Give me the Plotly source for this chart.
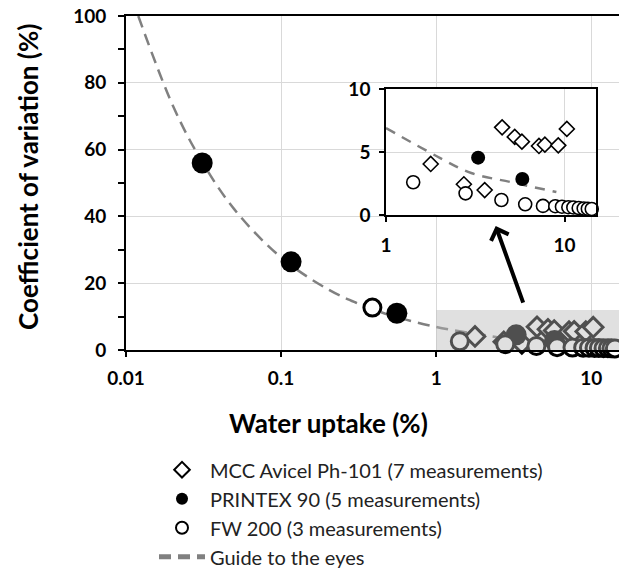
import plotly.graph_objects as go

# ---------------- data ----------------
mcc_x = [1.78, 2.73, 3.57, 4.47, 5.26, 5.77, 7.19, 7.76, 9.22, 10.3]
mcc_y = [4.05, 2.44, 1.98, 6.96, 6.2, 5.82, 5.48, 5.58, 5.53, 6.83]

printex_x = [0.031, 0.116, 0.558, 3.28, 5.8]
printex_y = [56.0, 26.4, 11.0, 4.55, 2.86]

fw_x = [0.388, 1.42, 2.79, 4.43, 6.02, 7.57, 8.87, 9.67, 10.5, 11.2, 12.0, 12.8, 13.5, 14.2]
fw_y = [12.7, 2.6, 1.72, 1.19, 0.85, 0.72, 0.7, 0.66, 0.62, 0.6, 0.55, 0.52, 0.5, 0.48]

guide_x = [0.012, 0.02, 0.03, 0.05, 0.1, 0.2, 0.3, 0.5, 1, 2, 3, 5, 9]
guide_y = [100, 73.3, 57.4, 42.1, 27.7, 18.2, 14.3, 10.5, 6.9, 4.54, 3.33, 2.61, 1.82]

names = ["MCC Avicel Ph-101 (7 measurements)",
         "PRINTEX 90 (5 measurements)",
         "FW 200 (3 measurements)",
         "Guide to the eyes"]

main_xticks = [0.01, 0.1, 1, 10]
main_xticktext = ["0.01", "0.1", "1", "10"]
main_yticks = [0, 20, 40, 60, 80, 100]
inset_xticks = [1, 10]
inset_xticktext = ["1", "10"]
inset_yticks = [0, 5, 10]

FONT = "Lato, 'Open Sans', sans-serif"


def inset_pts(xs, ys):
    pts = [(x, y) for x, y in zip(xs, ys) if x >= 1]
    return [p[0] for p in pts], [p[1] for p in pts]


fig = go.Figure()

# ---- main chart ----
fig.add_trace(go.Scatter(x=guide_x, y=guide_y, mode="lines", name=names[3],
                         line=dict(color="#808080", width=2.5, dash="12px,7px", shape="spline"),
                         legendrank=4, legendgroup="g4"))
fig.add_trace(go.Scatter(x=mcc_x, y=mcc_y, mode="markers", name=names[0],
                         marker=dict(symbol="diamond", size=15, color="white",
                                     line=dict(color="black", width=3)),
                         cliponaxis=False, legendrank=1, legendgroup="g1"))
fig.add_trace(go.Scatter(x=printex_x, y=printex_y, mode="markers", name=names[1],
                         marker=dict(symbol="circle", size=21, color="black",
                                     line=dict(color="black", width=0)),
                         cliponaxis=False, legendrank=2, legendgroup="g2"))
fig.add_trace(go.Scatter(x=fw_x, y=fw_y, mode="markers", name=names[2],
                         marker=dict(symbol="circle", size=17, color="white",
                                     line=dict(color="black", width=3)),
                         cliponaxis=False, legendrank=3, legendgroup="g3"))

# ---- inset ----
gx, gy = inset_pts(guide_x, guide_y)
fig.add_trace(go.Scatter(x=gx, y=gy, mode="lines", xaxis="x2", yaxis="y2", showlegend=False,
                         line=dict(color="#808080", width=2.5, dash="10px,8px", shape="spline")))
mx, my = inset_pts(mcc_x, mcc_y)
fig.add_trace(go.Scatter(x=mx, y=my, mode="markers", xaxis="x2", yaxis="y2", showlegend=False,
                         marker=dict(symbol="diamond", size=11.5, color="white",
                                     line=dict(color="black", width=1.6)), cliponaxis=False))
px, py = inset_pts(printex_x, printex_y)
fig.add_trace(go.Scatter(x=px, y=py, mode="markers", xaxis="x2", yaxis="y2", showlegend=False,
                         marker=dict(symbol="circle", size=14, color="black",
                                     line=dict(color="black", width=0)), cliponaxis=False))
fx, fy = inset_pts(fw_x, fw_y)
fig.add_trace(go.Scatter(x=fx, y=fy, mode="markers", xaxis="x2", yaxis="y2", showlegend=False,
                         marker=dict(symbol="circle", size=13, color="white",
                                     line=dict(color="black", width=1.6)), cliponaxis=False))

tickfont = dict(family=FONT, size=19, color="black", weight="bold")

fig.update_layout(
    width=619, height=578, autosize=False,
    margin=dict(l=126, r=0, t=16, b=228),
    plot_bgcolor="white", paper_bgcolor="white",
    xaxis=dict(type="log", range=[-2, 1.179], tickvals=main_xticks, ticktext=main_xticktext,
               ticks="outside", ticklen=5, tickwidth=1.5, tickcolor="black",
               showline=True, linecolor="black", linewidth=2, mirror=True,
               showgrid=True, gridcolor="#d9d9d9", gridwidth=1, zeroline=False,
               tickfont=tickfont, ticklabelstandoff=5, domain=[0, 1]),
    yaxis=dict(range=[0, 100], tickvals=main_yticks,
               ticks="outside", ticklen=6, tickwidth=1.5, tickcolor="black",
               minor=dict(dtick=10, ticks="outside", ticklen=6, tickwidth=1.5,
                          tickcolor="black", showgrid=False),
               showline=True, linecolor="black", linewidth=2, mirror=False,
               showgrid=True, gridcolor="#d9d9d9", gridwidth=1, zeroline=False,
               tickfont=tickfont, ticklabelstandoff=8, domain=[0, 1]),
    xaxis2=dict(type="log", range=[0, 1.176], tickvals=inset_xticks, ticktext=inset_xticktext,
                anchor="y2", domain=[0.5274, 0.9533],
                ticks="outside", ticklen=5, tickwidth=1.5, tickcolor="black",
                showline=True, linecolor="black", linewidth=1.6, mirror=True,
                showgrid=True, gridcolor="#d9d9d9", gridwidth=1, zeroline=False,
                tickfont=tickfont, ticklabelstandoff=7),
    yaxis2=dict(range=[0, 10], tickvals=inset_yticks, anchor="x2", domain=[0.4042, 0.7814],
                ticks="outside", ticklen=5, tickwidth=1.5, tickcolor="black",
                showline=True, linecolor="black", linewidth=1.6, mirror=True,
                showgrid=True, gridcolor="#d9d9d9", gridwidth=1, zeroline=False,
                tickfont=tickfont, ticklabelstandoff=5),
    legend=dict(x=0.0568, xanchor="left", y=-0.300, yanchor="top",
                font=dict(family=FONT, size=20, color="#222222"),
                itemsizing="constant", itemwidth=46, tracegroupgap=0,
                bgcolor="rgba(0,0,0,0)", traceorder="normal"),
    showlegend=True,
)

# grey highlight region over the inset's range in the main chart
fig.add_shape(type="rect", xref="x", yref="y", x0=1, x1=15.1, y0=0, y1=12,
              fillcolor="rgba(183,183,183,0.43)", line=dict(width=0), layer="above")

# arrow pointing to the inset
fig.add_annotation(xref="x", yref="y", x=0.384, y=37.1, ax=28, ay=78, text="",
                   showarrow=True, arrowhead=4, arrowsize=0.9, arrowwidth=4,
                   arrowcolor="black")

# axis titles
fig.add_annotation(xref="paper", yref="paper", x=0.4108, y=-0.2186,
                   text="<b>Water uptake (%)</b>", showarrow=False,
                   font=dict(family=FONT, size=26, color="black"),
                   xanchor="center", yanchor="middle")
fig.add_annotation(xref="paper", yref="paper", x=-0.1988, y=0.518,
                   text="<b>Coefficient of variation (%)</b>", showarrow=False, textangle=-90,
                   font=dict(family=FONT, size=26, color="black"),
                   xanchor="center", yanchor="middle")

fig.write_html("out.html", config={"displayModeBar": False},
               post_script="document.body.style.margin='0';")
